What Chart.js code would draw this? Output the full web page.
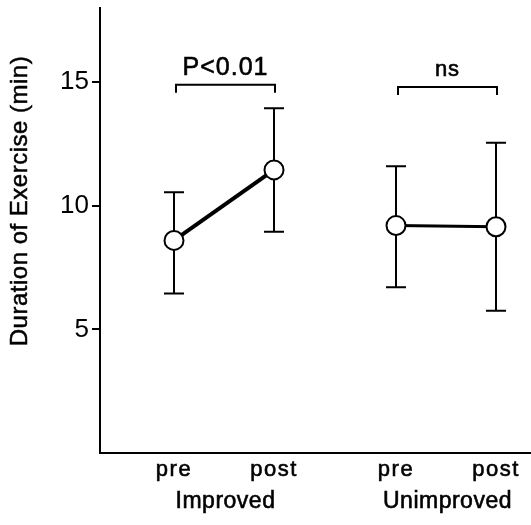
<!DOCTYPE html>
<html>
<head>
<meta charset="utf-8">
<script src="https://cdn.jsdelivr.net/npm/chart.js@4"></script>
<style>
  html, body { margin: 0; padding: 0; background: #fff; }
  #wrap { width: 531px; height: 525px; }
</style>
</head>
<body>
<div id="wrap"><canvas id="chart"></canvas></div>
<script>
// data (mean with error bar ends)
const groups = ['Improved', 'Unimproved'];
const phases = ['pre', 'post'];
const improvedMean = [8.6, 11.45];
const improvedLow = [6.45, 8.95];
const improvedHigh = [10.55, 13.95];
const unimprovedMean = [9.2, 9.15];
const unimprovedLow = [6.7, 5.75];
const unimprovedHigh = [11.6, 12.55];
const yTicks = [5, 10, 15];
const compareLabels = ['P<0.01', 'ns'];
const compareLevels = [14.9, 14.8];
const yTitle = 'Duration of Exercise (min)';

const groupGap = 2.22;
const FONT = "'Liberation Sans', Arial, sans-serif";

function xOf(g, p) { return g * groupGap + p + 1; }

const means = [improvedMean, unimprovedMean];
const lows = [improvedLow, unimprovedLow];
const highs = [improvedHigh, unimprovedHigh];

const datasets = groups.map((name, g) => ({
    label: name,
    data: phases.map((ph, p) => ({ x: xOf(g, p), y: means[g][p], lo: lows[g][p], hi: highs[g][p] })),
    borderColor: '#000',
    borderWidth: g === 0 ? 4 : 3,
    pointRadius: 9.5,
    pointBorderWidth: 2,
    pointBackgroundColor: '#fff',
    pointBorderColor: '#000',
    showLine: true
}));

// error bars drawn under the circles
const errorBars = {
    id: 'errorBars',
    beforeDatasetsDraw(chart) {
        const ctx = chart.ctx;
        const xs = chart.scales.x, ys = chart.scales.y;
        ctx.save();
        ctx.strokeStyle = '#000';
        ctx.lineWidth = 2;
        chart.data.datasets.forEach(ds => {
            ds.data.forEach(pt => {
                const px = xs.getPixelForValue(pt.x);
                const top = ys.getPixelForValue(pt.hi);
                const bot = ys.getPixelForValue(pt.lo);
                ctx.beginPath();
                ctx.moveTo(px, top); ctx.lineTo(px, bot);
                ctx.moveTo(px - 10, top); ctx.lineTo(px + 10, top);
                ctx.moveTo(px - 10, bot); ctx.lineTo(px + 10, bot);
                ctx.stroke();
            });
        });
        ctx.restore();
    }
};

// heavier text, the scan has thick strokes
function heavyText(ctx, txt, x, y) {
    ctx.fillText(txt, x, y);
    ctx.strokeText(txt, x, y);
}

// brackets, axis labels and y title
const labels = {
    id: 'labels',
    afterDraw(chart) {
        const ctx = chart.ctx;
        const xs = chart.scales.x, ys = chart.scales.y;
        ctx.save();
        ctx.fillStyle = '#000';
        ctx.strokeStyle = '#000';
        ctx.textAlign = 'center';
        ctx.textBaseline = 'middle';

        groups.forEach((name, g) => {
            const x0 = xs.getPixelForValue(xOf(g, 0)) + 2;
            const x1 = xs.getPixelForValue(xOf(g, 1)) + 1;
            const by = ys.getPixelForValue(compareLevels[g]);
            ctx.lineWidth = 2;
            ctx.beginPath();
            ctx.moveTo(x0, by + 8); ctx.lineTo(x0, by); ctx.lineTo(x1, by); ctx.lineTo(x1, by + 8);
            ctx.stroke();

            ctx.lineWidth = 0.6;
            ctx.font = (g === 0 ? '25px ' : '22px ') + FONT;
            ctx.letterSpacing = '1px';
            heavyText(ctx, compareLabels[g], (x0 + x1) / 2, by - 17);

            ctx.font = '22px ' + FONT;
            ctx.letterSpacing = '1.5px';
            phases.forEach((ph, p) => {
                heavyText(ctx, ph, xs.getPixelForValue(xOf(g, p)), 470);
            });
            ctx.font = '23px ' + FONT;
            ctx.letterSpacing = '0.5px';
            heavyText(ctx, name, (x0 + x1) / 2, 502);
        });

        ctx.letterSpacing = '0.5px';
        ctx.translate(20, 201);
        ctx.rotate(-Math.PI / 2);
        ctx.font = '24px ' + FONT;
        ctx.lineWidth = 0.5;
        heavyText(ctx, yTitle, 0, 0);
        ctx.restore();
    }
};

new Chart(document.getElementById('chart'), {
    type: 'scatter',
    data: { datasets },
    plugins: [errorBars, labels],
    options: {
        responsive: true,
        maintainAspectRatio: false,
        animation: false,
        layout: { autoPadding: false, padding: { top: 8, right: 0, left: 0, bottom: 0 } },
        plugins: { legend: { display: false }, tooltip: { enabled: false } },
        scales: {
            x: {
                type: 'linear',
                min: 0.26,
                max: 4.57,
                ticks: { display: false },
                grid: { display: false },
                border: { color: '#000', width: 2 },
                afterFit(scale) { scale.height = 72; }
            },
            y: {
                min: 0,
                max: 18,
                afterBuildTicks(scale) { scale.ticks = yTicks.map(v => ({ value: v })); },
                ticks: { color: '#000', padding: 3, font: { family: FONT, size: 26 } },
                grid: { drawOnChartArea: false, tickLength: 8, color: '#000', lineWidth: 2 },
                border: { color: '#000', width: 2 },
                afterFit(scale) {
                    scale.width = 100;
                    scale.paddingTop = 0;
                    scale.paddingBottom = 0;
                }
            }
        }
    }
});
</script>
</body>
</html>
